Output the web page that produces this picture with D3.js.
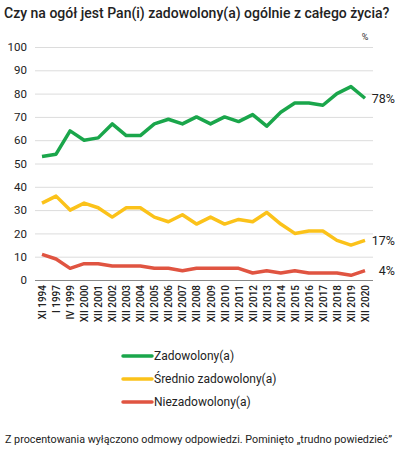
<!DOCTYPE html>
<html>
<head>
<meta charset="utf-8">
<script src="https://cdn.jsdelivr.net/npm/d3@7"></script>
<style>
  body { margin: 0; background: #fff; }
  svg { font-family: Roboto, "Noto Sans", sans-serif; }
</style>
</head>
<body>
<svg id="chart" width="397" height="454"></svg>
<script>
const categories = ["XI 1994", "I 1997", "IV 1999", "XII 2000", "XII 2001", "XII 2002", "XII 2003",
  "XII 2004", "XII 2005", "XII 2006", "XII 2007", "XII 2008", "XII 2009", "XII 2010", "XII 2011",
  "XII 2012", "XII 2013", "XII 2014", "XII 2015", "XII 2016", "XII 2017", "XII 2018", "XII 2019", "XII 2020"];

const zadowoleni = [53, 54, 64, 60, 61, 67, 62, 62, 67, 69, 67, 70, 67, 70, 68, 71, 66, 72, 76, 76, 75, 80, 83, 78];
const srednio = [33, 36, 30, 33, 31, 27, 31, 31, 27, 25, 28, 24, 27, 24, 26, 25, 29, 24, 20, 21, 21, 17, 15, 17];
const niezadowoleni = [11, 9, 5, 7, 7, 6, 6, 6, 5, 5, 4, 5, 5, 5, 5, 3, 4, 3, 4, 3, 3, 3, 2, 4];

const seriesNames = ["Zadowolony(a)", "Średnio zadowolony(a)", "Niezadowolony(a)"];
const colors = ["#1aa64b", "#fbc21a", "#e05441"];
const yTicks = [0, 10, 20, 30, 40, 50, 60, 70, 80, 90, 100];

const series = [zadowoleni, srednio, niezadowoleni];

let svg = d3.select("#chart");

let x = d3.scalePoint().domain(categories).range([42, 365]);
let y = d3.scaleLinear().domain([0, 100]).range([280, 47]);

// title, squeezed horizontally like the original
let title = svg.append("text")
    .attr("x", 0)
    .attr("y", 0)
    .attr("font-size", 15.5)
    .attr("font-weight", 500)
    .attr("fill", "#222")
    .text("Czy na ogół jest Pan(i) zadowolony(a) ogólnie z całego życia?");
let tw = title.node().getComputedTextLength();
title.attr("transform", "translate(4,18) scale(" + (386 / tw) + ",1)");

svg.append("text")
    .attr("x", 365)
    .attr("y", 40)
    .attr("font-size", 9)
    .attr("fill", "#333")
    .attr("text-anchor", "middle")
    .text("%");

// grid + y labels
let yAxis = d3.axisLeft(y).tickValues(yTicks).tickSize(-338).tickPadding(8);
let gy = svg.append("g").attr("transform", "translate(35,0)").call(yAxis);
gy.select(".domain").remove();
gy.selectAll(".tick line").attr("stroke", "#dcdcdc").attr("stroke-width", 1);
gy.selectAll(".tick text").attr("font-size", 11.5).attr("fill", "#222").attr("x", -8)
    .attr("font-family", "Roboto, sans-serif");
gy.selectAll(".tick").filter(d => d === 0).select("line").attr("stroke", "#888");

// x labels
let xAxis = d3.axisBottom(x).tickSize(0).tickPadding(4);
let gx = svg.append("g").attr("transform", "translate(0,280)").call(xAxis);
gx.select(".domain").remove();
gx.selectAll("text")
    .attr("font-size", 10)
    .attr("font-weight", 500)
    .attr("fill", "#222")
    .attr("font-family", "Roboto, sans-serif")
    .attr("text-anchor", "end")
    .attr("dy", "0.35em")
    .attr("transform", "rotate(-90)")
    .attr("x", -5)
    .attr("y", 0);

// lines
let line = d3.line()
    .x((d, i) => x(categories[i]))
    .y(d => y(d));

series.forEach((s, i) => {
    svg.append("path")
        .datum(s)
        .attr("fill", "none")
        .attr("stroke", colors[i])
        .attr("stroke-width", 3.5)
        .attr("stroke-linejoin", "round")
        .attr("d", line);

    svg.append("text")
        .attr("x", 395)
        .attr("y", y(s[s.length - 1]))
        .attr("dy", "0.35em")
        .attr("text-anchor", "end")
        .attr("font-size", 12.5)
        .attr("fill", "#222")
        .text(s[s.length - 1] + "%");
});

// legend
let legend = svg.append("g").attr("transform", "translate(123,356)");
seriesNames.forEach((name, i) => {
    let g = legend.append("g").attr("transform", "translate(0," + (i * 23) + ")");
    g.append("line")
        .attr("x1", 0).attr("x2", 29)
        .attr("stroke", colors[i])
        .attr("stroke-width", 3.5)
        .attr("stroke-linecap", "round");
    g.append("text")
        .attr("x", 31)
        .attr("dy", "0.35em")
        .attr("font-size", 12)
        .attr("fill", "#222")
        .text(name);
});

// note
svg.append("text")
    .attr("x", 5)
    .attr("y", 443)
    .attr("font-size", 10.5)
    .attr("fill", "#222")
    .attr("textLength", 387)
    .attr("lengthAdjust", "spacingAndGlyphs")
    .text("Z procentowania wyłączono odmowy odpowiedzi. Pominięto „trudno powiedzieć”");
</script>
</body>
</html>
